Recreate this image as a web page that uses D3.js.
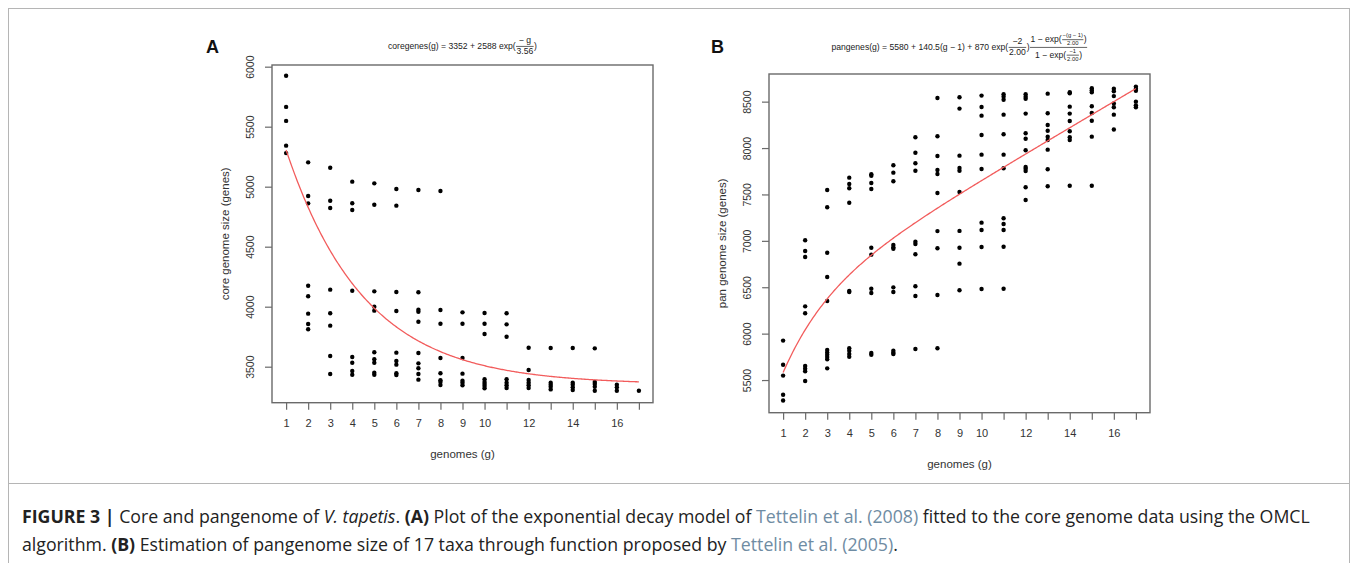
<!DOCTYPE html>
<html>
<head>
<meta charset="utf-8">
<script src="https://cdn.jsdelivr.net/npm/d3@7/dist/d3.min.js"></script>
<style>
  html, body { margin: 0; padding: 0; background: #fff; }
  svg { display: block; font-family: "Liberation Sans", Arial, sans-serif; }
</style>
</head>
<body>
<svg id="fig" width="1358" height="563"></svg>
<script>
// ---------------- DATA ----------------
const genomes = [1,2,3,4,5,6,7,8,9,10,11,12,13,14,15,16,17];
const xTickLabels = [1,2,3,4,5,6,7,8,9,10,12,14,16];
const coreYTicks = [3500,4000,4500,5000,5500,6000];
const panYTicks = [5500,6000,6500,7000,7500,8000,8500];

// core genome sizes for each number of genomes (index 0 -> g = 1)
const coreSizes = [
  [5925,5665,5548,5342,5280],
  [5203,4922,4861,4175,4087,3942,3856,3812],
  [5158,4883,4822,4142,3945,3842,3589,3439],
  [5042,4862,4806,4133,3581,3533,3464,3433],
  [5028,4850,4128,4000,3967,3620,3562,3533,3450,3433],
  [4981,4842,4122,3964,3617,3547,3517,3445,3431],
  [4972,4120,3975,3958,3875,3614,3528,3487,3439,3392],
  [4964,3972,3858,3572,3445,3387,3372,3347],
  [3953,3858,3572,3442,3383,3367,3345],
  [3947,3858,3772,3395,3372,3356,3339,3320],
  [3945,3853,3750,3395,3367,3345,3322],
  [3658,3472,3389,3367,3345,3322],
  [3656,3367,3350,3333,3311],
  [3656,3367,3350,3328,3306],
  [3653,3372,3356,3333,3300],
  [3350,3328,3300],
  [3300]
];

// pan genome sizes for each number of genomes (index 0 -> g = 1)
const panSizes = [
  [5925,5665,5548,5342,5280],
  [7006,6891,6826,6294,6219,5651,5622,5594,5489],
  [7548,7362,6872,6610,6352,5823,5798,5773,5748,5723,5626],
  [7681,7613,7566,7411,6459,6449,5842,5816,5780,5751],
  [7717,7702,7624,7559,6926,6851,6484,6438,5791,5773],
  [7814,7735,7642,6955,6930,6915,6499,6449,5816,5794,5780],
  [8116,7950,7836,7756,6991,6966,6855,6510,6405,5834],
  [8540,8127,7915,7764,7721,7516,7105,6920,6416,5842],
  [8547,8425,7918,7785,7756,7527,7107,6926,6754,6467],
  [8565,8443,8349,8141,7929,7774,7196,7117,6934,6481],
  [8580,8554,8521,8360,8148,7929,7782,7243,7182,7117,6936,6484],
  [8580,8554,8532,8371,8159,8101,7976,7796,7778,7753,7577,7440],
  [8586,8375,8249,8187,8123,8087,7983,7771,7588],
  [8601,8590,8446,8371,8292,8181,8116,8087,7594],
  [8644,8623,8601,8450,8378,8295,8123,7594],
  [8640,8612,8560,8480,8440,8360,8200],
  [8662,8640,8618,8500,8460,8440]
];

// fitted models shown in the panel titles
const coreParams = { a: 3352, b: 2588, tau: 3.56 };
const panParams = { a: 5580, slope: 140.5, k: 870, tau: 2.00 };

// ---------------- DRAWING ----------------
const svg = d3.select("#fig");
const FONT = '"Liberation Sans", Arial, sans-serif';

// outer frame
svg.append("rect").attr("x", 8.5).attr("y", 8.5).attr("width", 1341).attr("height", 560)
  .attr("fill", "none").attr("stroke", "#b5b5b5").attr("stroke-width", 1);
svg.append("line").attr("x1", 8.5).attr("x2", 1349.5).attr("y1", 483.5).attr("y2", 483.5)
  .attr("stroke", "#b5b5b5").attr("stroke-width", 1);

function panel(cfg) {
  const g = svg.append("g");
  const x = d3.scaleLinear().domain([0.36, 17.64]).range([cfg.left, cfg.right]);
  const y = d3.scaleLinear().domain(cfg.yDomain).range([cfg.bottom, cfg.top]);

  // points
  const pts = [];
  cfg.values.forEach((vals, i) => vals.forEach(v => pts.push([genomes[i], v])));
  g.append("g").selectAll("circle").data(pts).join("circle")
    .attr("cx", d => x(d[0])).attr("cy", d => y(d[1])).attr("r", 2.2).attr("fill", "#000");

  // fitted curve
  const curve = d3.range(1, 17.001, 0.05).map(t => [t, cfg.model(t)]);
  g.append("path").datum(curve)
    .attr("d", d3.line().x(d => x(d[0])).y(d => y(d[1])))
    .attr("fill", "none").attr("stroke", "#f25c5c").attr("stroke-width", 1.3);

  // box
  g.append("rect").attr("x", cfg.left).attr("y", cfg.top)
    .attr("width", cfg.right - cfg.left).attr("height", cfg.bottom - cfg.top)
    .attr("fill", "none").attr("stroke", "#6a6a6a").attr("stroke-width", 1.4);

  // x axis
  const xa = g.append("g").attr("transform", `translate(0,${cfg.bottom})`)
    .call(d3.axisBottom(x).tickValues(genomes).tickSize(7).tickPadding(10)
      .tickFormat(d => xTickLabels.includes(d) ? d : ""));
  xa.select(".domain").remove();
  xa.selectAll(".tick line").attr("stroke", "#6a6a6a").attr("stroke-width", 1.2);
  xa.selectAll(".tick text").attr("font-family", FONT).attr("font-size", 11).attr("fill", "#333");

  // y axis
  const ya = g.append("g").attr("transform", `translate(${cfg.left},0)`)
    .call(d3.axisLeft(y).tickValues(cfg.yTicks).tickSize(7).tickFormat(d3.format("d")));
  ya.select(".domain").remove();
  ya.selectAll(".tick line").attr("stroke", "#6a6a6a").attr("stroke-width", 1.2);
  ya.selectAll(".tick text").attr("font-family", FONT).attr("font-size", 10.5).attr("fill", "#333")
    .attr("x", null).attr("dy", null)
    .attr("transform", `translate(-18,0) rotate(-90)`)
    .attr("text-anchor", "middle");

  // axis titles
  g.append("text").attr("x", (cfg.left + cfg.right) / 2).attr("y", cfg.bottom + 55)
    .attr("text-anchor", "middle").attr("font-size", 11.5).attr("fill", "#333").text("genomes (g)");
  g.append("text")
    .attr("transform", `translate(${cfg.left - 43},${(cfg.top + cfg.bottom) / 2}) rotate(-90)`)
    .attr("text-anchor", "middle").attr("font-size", 11.5).attr("fill", "#333").text(cfg.yTitle);

  // panel letter
  svg.append("text").attr("x", cfg.letterX).attr("y", 53).attr("font-size", 18)
    .attr("font-weight", "bold").attr("fill", "#111").text(cfg.letter);

  return { x, y };
}

panel({
  left: 272, right: 653, top: 65, bottom: 402.7,
  yDomain: [3200, 6014], yTicks: coreYTicks, values: coreSizes,
  model: t => coreParams.a + coreParams.b * Math.exp(-t / coreParams.tau),
  yTitle: "core genome size (genes)", letter: "A", letterX: 206
});

panel({
  left: 769, right: 1150, top: 74, bottom: 412.7,
  yDomain: [5148, 8798], yTicks: panYTicks, values: panSizes,
  model: t => panParams.a + panParams.slope * (t - 1) +
    panParams.k * Math.exp(-2 / panParams.tau) * (1 - Math.exp(-(t - 1) / panParams.tau)) / (1 - Math.exp(-1 / panParams.tau)),
  yTitle: "pan genome size (genes)", letter: "B", letterX: 711
});

// ------------- formula rendering (plotmath-like) -------------
const measureG = svg.append("g").attr("visibility", "hidden");
function txt(s) { return { type: "t", s }; }
function frac(num, den) { return { type: "f", num, den }; }

function layout(items, size, depth) {
  const boxes = items.map(it => {
    if (it.type === "t") {
      const t = measureG.append("text").attr("font-size", size).attr("font-family", FONT).text(it.s);
      const w = t.node().getComputedTextLength();
      t.remove();
      return { w, asc: 0.75 * size, desc: 0.22 * size, draw: (p, x, b) => {
        p.append("text").attr("x", x).attr("y", b).attr("font-size", size)
          .attr("fill", "#222").text(it.s);
      }};
    } else {
      const cs = depth === 0 ? size : size * 0.68;
      const nb = layout(it.num, cs, depth + 1);
      const db = layout(it.den, cs, depth + 1);
      const gap = 0.12 * size, axis = 0.3 * size, pad = 0.1 * size;
      const w = Math.max(nb.w, db.w) + 2 * pad;
      return {
        w, asc: axis + gap + nb.asc + nb.desc, desc: gap + db.asc + db.desc - axis,
        draw: (p, x, b) => {
          const bar = b - axis;
          nb.draw(p, x + (w - nb.w) / 2, bar - gap - nb.desc);
          db.draw(p, x + (w - db.w) / 2, bar + gap + db.asc);
          p.append("line").attr("x1", x + pad * 0.5).attr("x2", x + w - pad * 0.5)
            .attr("y1", bar).attr("y2", bar).attr("stroke", "#222").attr("stroke-width", 0.7);
        }
      };
    }
  });
  const w = d3.sum(boxes, d => d.w);
  return {
    w, asc: d3.max(boxes, d => d.asc), desc: d3.max(boxes, d => d.desc),
    draw: (p, x, b) => { let cx = x; boxes.forEach(bx => { bx.draw(p, cx, b); cx += bx.w; }); }
  };
}
function formula(items, cx, baseline, size) {
  const box = layout(items, size, 0);
  const g = svg.append("g");
  box.draw(g, cx - box.w / 2, baseline);
}

formula([
  txt("coregenes(g) = 3352 + 2588 exp("),
  frac([txt("\u2212 g")], [txt("3.56")]),
  txt(")")
], 462.5, 49, 8.6);

formula([
  txt("pangenes(g) = 5580 + 140.5(g \u2212 1) + 870 exp("),
  frac([txt("\u22122")], [txt("2.00")]),
  txt(")"),
  frac(
    [txt("1 \u2212 exp("), frac([txt("\u2212(g \u2212 1)")], [txt("2.00")]), txt(")")],
    [txt("1 \u2212 exp("), frac([txt("\u22121")], [txt("2.00")]), txt(")")]
  )
], 959.5, 50, 8.6);

// ---------------- caption ----------------
const CAPFONT = '"Open Sans", "Liberation Sans", Arial, sans-serif';
const cap = svg.append("g").attr("font-family", CAPFONT).attr("fill", "#222");
function captionLine(y, parts) {
  const t = cap.append("text").attr("x", 22).attr("y", y);
  parts.forEach(p => {
    const s = t.append("tspan").text(p.s);
    if (p.b) s.attr("font-weight", "bold");
    if (p.i) s.attr("font-style", "italic");
    if (p.link) s.attr("fill", "#6f8ca3");
  });
  return t;
}
const l1 = captionLine(523, [
  { s: "FIGURE 3 | ", b: true }, { s: "Core and pangenome of " }, { s: "V. tapetis", i: true },
  { s: ". " }, { s: "(A)", b: true }, { s: " Plot of the exponential decay model of " },
  { s: "Tettelin et al. (2008)", link: true }, { s: " fitted to the core genome data using the OMCL" }
]);
const l2 = captionLine(551, [
  { s: "algorithm. " }, { s: "(B)", b: true },
  { s: " Estimation of pangenome size of 17 taxa through function proposed by " },
  { s: "Tettelin et al. (2005)", link: true }, { s: "." }
]);
// fit caption font size so line 1 spans the same width as the figure caption
cap.attr("font-size", 15);
const w15 = l1.node().getComputedTextLength();
cap.attr("font-size", Math.min(18, 15 * 1288 / w15));
</script>
</body>
</html>
